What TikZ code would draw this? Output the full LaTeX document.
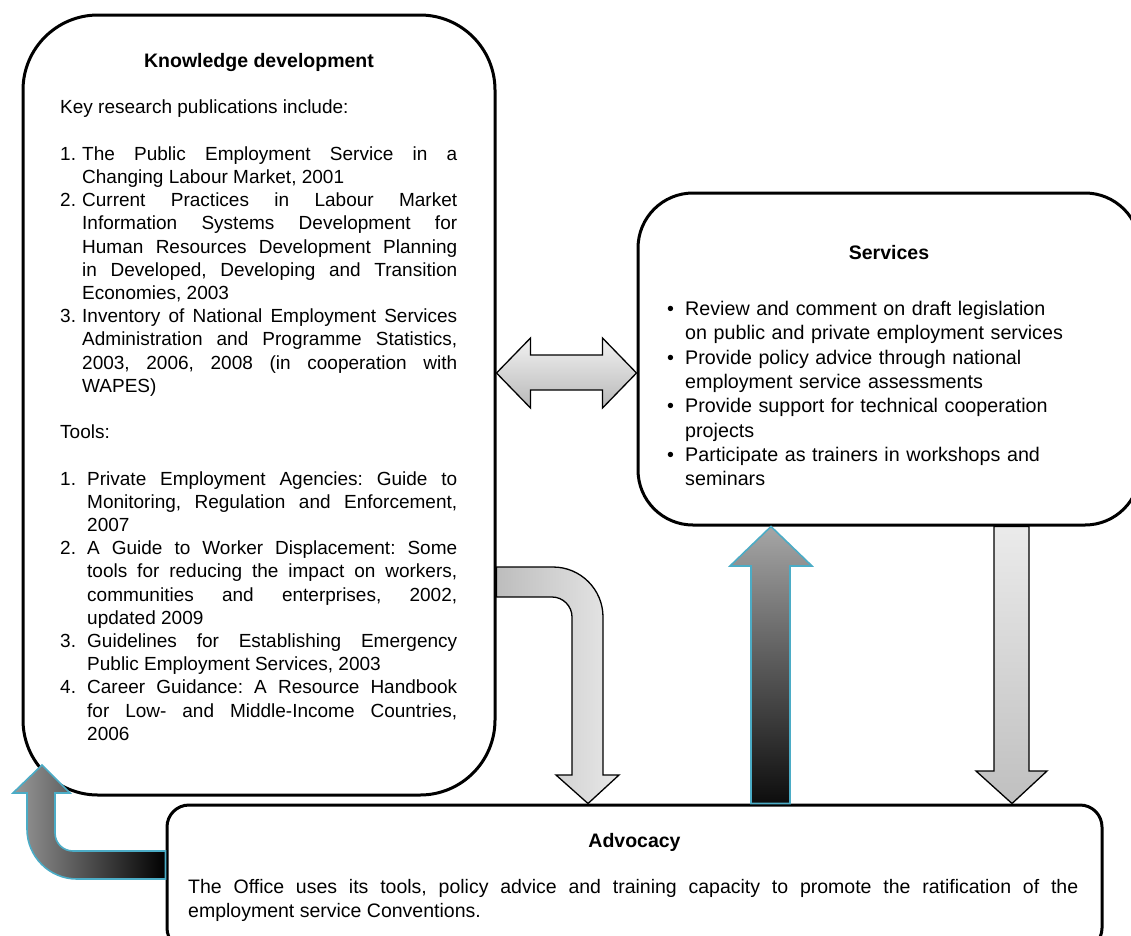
\documentclass[tikz,border=0pt]{standalone}
\usepackage{fontspec}
\setmainfont{Liberation Sans}
\usepackage{tikz}
\usetikzlibrary{shadings}
\usetikzlibrary{positioning}
\usetikzlibrary{calc}

\definecolor{arrowblue}{HTML}{4BACC6}

\tikzstyle{roundbox}=[rectangle,draw=black,line width=3pt,fill=white,inner sep=0pt]
\tikzstyle{boxtitle}=[anchor=base,inner sep=0pt,font=\fontsize{19.5}{23}\selectfont\bfseries]
\tikzstyle{bodytext}=[anchor=north west,inner sep=0pt,align=justify]
\tikzstyle{greyarrow}=[draw=black,line width=1.3pt]
\tikzstyle{darkarrow}=[draw=arrowblue,line width=1.6pt]

\newlength{\itemind}
\newcommand{\listitem}[2]{\par\hangindent=\itemind\hangafter=1\noindent\makebox[\itemind][l]{#1}#2}
\newcommand{\emptyrow}{\par\vspace{\baselineskip}}
\frenchspacing

\begin{document}
\begin{tikzpicture}[x=1pt,y=-1pt]

  \clip (0,0) rectangle (1131,935);

  % the three boxes
  \node[roundbox, rounded corners=75pt, minimum width=472pt, minimum height=780pt] (know) at (259,405) {};
  \node[roundbox, rounded corners=55pt, minimum width=502pt, minimum height=332pt] (serv) at (889,359) {};
  \node[roundbox, rounded corners=22pt, minimum width=935pt, minimum height=145pt] (adv) at (634.5,877.5) {};

  % knowledge <-> services
  \draw[greyarrow, top color=black!5, bottom color=black!28]
    (know.east |- 0,373) -- ++(34,-35) -- ++(0,17) -- ($(serv.west |- 0,355)+(-34,0)$) -- ++(0,-17)
    -- (serv.west |- 0,373) -- ++(-34,35) -- ++(0,-18) -- ($(know.east |- 0,390)+(34,0)$) -- ++(0,18) -- cycle;

  % knowledge -> advocacy
  \draw[greyarrow, left color=black!26, right color=black!9]
    (know.east |- 0,567) -- (553,567) .. controls (580.6,567) and (603,589.4) .. (603,617)
    -- (603,775) -- (619,775) -- (588,0 |- adv.north) -- (556,775) -- (572,775) -- (572,617)
    .. controls (572,606) and (563,597) .. (552,597) -- (know.east |- 0,597) -- cycle;

  % advocacy -> services
  \draw[darkarrow, top color=black!35, bottom color=black!95]
    (751,0 |- adv.north) -- (751,566) -- (730,566) -- (771,0 |- serv.south) -- (812,566) -- (790,566) -- (790,0 |- adv.north) -- cycle;

  % services -> advocacy
  \draw[greyarrow, top color=black!8, bottom color=black!25]
    (994,0 |- serv.south) -- (994,771) -- (976,771) -- (1012,0 |- adv.north) -- (1047,771) -- (1029,771) -- (1029,0 |- serv.south) -- cycle;

  % advocacy -> knowledge
  \draw[darkarrow, left color=black!40, right color=black]
    (adv.west |- 0,851) -- (73,851) .. controls (63,851) and (55,843) .. (55,833) -- (55,793) -- (70,793)
    -- (42,765) -- (13,793) -- (27,793) -- (27,829) .. controls (27,856.6) and (49.4,879) .. (77,879)
    -- (adv.west |- 0,879) -- cycle;

  % texts
  \node[boxtitle] (knowtitle) at (259,67) {Knowledge development};
  \node[boxtitle] (servtitle) at (889,259) {Services};
  \node[boxtitle] (advtitle) at (634.5,847) {Advocacy};

  \node[bodytext, text width=397pt, font=\fontsize{19}{23.2}\selectfont] (knowtext) at (60,100) {%
    \noindent Key research publications include:\emptyrow
    \setlength{\itemind}{22pt}%
    \listitem{1.}{The Public Employment Service in a\linebreak Changing Labour Market, 2001}%
    \listitem{2.}{Current Practices in Labour Market\linebreak Information Systems Development for\linebreak Human Resources Development Planning\linebreak in Developed, Developing and Transition\linebreak Economies, 2003}%
    \listitem{3.}{Inventory of National Employment Services\linebreak Administration and Programme Statistics,\linebreak 2003, 2006, 2008 (in cooperation with\linebreak WAPES)}\emptyrow
    \noindent Tools:\emptyrow
    \setlength{\itemind}{27pt}%
    \listitem{1.}{Private Employment Agencies: Guide to\linebreak Monitoring, Regulation and Enforcement,\linebreak 2007}%
    \listitem{2.}{A Guide to Worker Displacement: Some\linebreak tools for reducing the impact on workers,\linebreak communities and enterprises, 2002,\linebreak updated 2009}%
    \listitem{3.}{Guidelines for Establishing Emergency\linebreak Public Employment Services, 2003}%
    \listitem{4.}{Career Guidance: A Resource Handbook\linebreak for Low- and Middle-Income Countries,\linebreak 2006}\par};

  \node[bodytext, align=left, text width=440pt, font=\fontsize{19.7}{24.3}\selectfont] (servtext) at (667,291) {%
    \setlength{\itemind}{18pt}%
    \listitem{\textbullet}{Review and comment on draft legislation\newline on public and private employment services}%
    \listitem{\textbullet}{Provide policy advice through national\newline employment service assessments}%
    \listitem{\textbullet}{Provide support for technical cooperation\newline projects}%
    \listitem{\textbullet}{Participate as trainers in workshops and\newline seminars}\par};

  \node[bodytext, text width=890pt, font=\fontsize{19.5}{24}\selectfont] (advtext) at (188,879) {%
    \noindent The Office uses its tools, policy advice and training capacity to promote the ratification of the\linebreak employment service Conventions.};

\end{tikzpicture}
\end{document}
